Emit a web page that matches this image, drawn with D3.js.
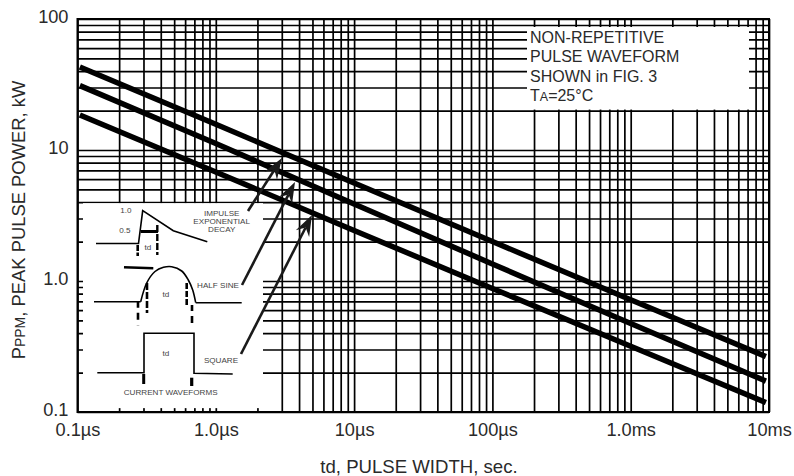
<!DOCTYPE html>
<html>
<head>
<meta charset="utf-8">
<script src="https://cdn.jsdelivr.net/npm/d3@7"></script>
<style>
  html, body { margin: 0; padding: 0; background: #fff; }
  text { font-family: "Liberation Sans", Arial, sans-serif; fill: #2a2a2a; }
  .grid line { stroke: #000; stroke-width: 1.7; }
  .grid path { display: none; }
  .tick-labels path, .tick-labels line { display: none; }
  .tick-labels text { font-size: 18.2px; font-family: "Liberation Sans", Arial, sans-serif; fill: #2a2a2a; }
</style>
</head>
<body>
<svg id="chart" width="794" height="476"></svg>
<script>
// pulse width in microseconds, peak power in kW
let pulse_width = [0.104, 1, 10, 100, 1000, 9500];
let impulse_power = [43, 15.7, 5.6, 2.0, 0.72, 0.265];
let half_sine_power = [31, 11.2, 3.87, 1.35, 0.474, 0.172];
let square_power = [18.5, 6.8, 2.43, 0.877, 0.318, 0.118];

let x_ticks = [0.1, 1, 10, 100, 1000, 10000];
let x_tick_labels = ['0.1µs', '1.0µs', '10µs', '100µs', '1.0ms', '10ms'];
let y_ticks = [0.1, 1, 10, 100];
let y_tick_labels = ['0.1', '1.0', '10', '100'];
let note_lines = ['NON-REPETITIVE', 'PULSE WAVEFORM', 'SHOWN in FIG. 3'];

let svg = d3.select('#chart');
let left = 77.5, right = 769, top_y = 19, bottom = 412;

let x = d3.scaleLog().domain([0.1, 10000]).range([left, right]);
let y = d3.scaleLog().domain([0.1, 100]).range([bottom, top_y]);

// every 1..9 of each decade gets a grid line
function decades(from, to) {
    let res = [];
    for (let d = from; d < to - 1e-9; d *= 10) {
        for (let m = 1; m < 10; m++) res.push(d * m);
    }
    res.push(to);
    return res;
}

svg.append('g').attr('class', 'grid')
    .attr('transform', `translate(0,${bottom})`)
    .call(d3.axisBottom(x).tickValues(decades(0.1, 10000)).tickSize(top_y - bottom).tickFormat(''));
svg.append('g').attr('class', 'grid')
    .attr('transform', `translate(${left},0)`)
    .call(d3.axisLeft(y).tickValues(decades(0.1, 100)).tickSize(left - right).tickFormat(''));

// white panels sit on the grid: waveform inset and the note box
svg.append('rect').attr('x', 83).attr('y', y(4) + 1).attr('width', 180).attr('height', 205).attr('fill', '#fff');
svg.append('rect').attr('x', 527).attr('y', 27).attr('width', 222).attr('height', y(20) - 28).attr('fill', '#fff');

// frame
svg.append('rect').attr('x', left).attr('y', top_y).attr('width', right - left).attr('height', bottom - top_y)
    .attr('fill', 'none').attr('stroke', '#000').attr('stroke-width', 2);

// the three curves
let curve = d3.line().x((d, i) => x(pulse_width[i])).y(d => y(d));
[impulse_power, half_sine_power, square_power].forEach(function (s) {
    svg.append('path').attr('d', curve(s))
        .attr('fill', 'none').attr('stroke', '#000').attr('stroke-width', 5.5);
});

// tick labels
svg.append('g').attr('class', 'tick-labels')
    .attr('transform', `translate(0,${bottom + 6})`)
    .call(d3.axisBottom(x).tickValues(x_ticks).tickSize(0).tickPadding(5)
        .tickFormat((d, i) => x_tick_labels[i]));
svg.append('g').attr('class', 'tick-labels')
    .attr('transform', `translate(${left - 9},-2)`)
    .call(d3.axisLeft(y).tickValues(y_ticks).tickSize(0).tickPadding(0)
        .tickFormat((d, i) => y_tick_labels[i]));

// axis titles
let ylab = svg.append('text').attr('transform', 'translate(25,220) rotate(-90)')
    .attr('text-anchor', 'middle').attr('font-size', 18.4);
ylab.append('tspan').text('P');
ylab.append('tspan').attr('font-size', 14).text('PPM');
ylab.append('tspan').text(', PEAK PULSE POWER, kW');
svg.append('text').attr('x', 419).attr('y', 473).attr('text-anchor', 'middle')
    .attr('font-size', 18.6).text('td, PULSE WIDTH, sec.');

// note box
note_lines.forEach(function (t, i) {
    svg.append('text').attr('x', 530).attr('y', 43 + i * 19.4).attr('font-size', 16).text(t);
});
let ta = svg.append('text').attr('x', 530).attr('y', 101).attr('font-size', 16);
ta.append('tspan').text('T');
ta.append('tspan').attr('font-size', 12.5).text('A');
ta.append('tspan').text('=25°C');

// inset sketches, plain pixel paths
let sketch = d3.line();
let sketch_round = d3.line().curve(d3.curveCatmullRom);
let ink = svg.append('g').attr('fill', 'none').attr('stroke', '#000');
function stroke(pts, w, dash, gen) {
    let p = ink.append('path').attr('d', (gen || sketch)(pts)).attr('stroke-width', w);
    if (dash) p.attr('stroke-dasharray', dash);
}

// impulse
stroke([[96, 243.5], [138.5, 243.5], [142.7, 210.7], [173.3, 230.7], [207.3, 241.7]], 1.6);
stroke([[140.7, 231.5], [158, 231.5]], 3);
stroke([[137.7, 245], [137.7, 256]], 2.6, '6 1.5');
stroke([[157.3, 225], [157.3, 255]], 2.4, '7 2');
// half sine
stroke([[94, 301.7], [140.7, 301.7]], 1.6);
stroke([[140.7, 301.7], [146.7, 283], [155, 271.5], [163.5, 267.3], [171.7, 266.7], [181.7, 271], [188.3, 280], [192.7, 290], [195.7, 302.7]], 1.6, null, sketch_round);
stroke([[195.7, 302.7], [241.7, 302.7]], 1.6);
stroke([[124, 267.3], [153.3, 268.3]], 2.4);
stroke([[138, 301.7], [138, 326]], 2.6, '6 5 7');
stroke([[147, 283], [147, 313]], 2.6, '7 2');
stroke([[186.7, 283], [186.7, 307]], 2.6, '6 2');
stroke([[192, 305], [192, 326]], 2.6, '6 5 7');
// square
stroke([[97.3, 372.7], [144, 372.7], [144, 333.3], [194, 333.3], [194, 373.3], [232.7, 374]], 1.6);
stroke([[143.7, 374], [143.7, 384]], 3);
stroke([[191.7, 377.7], [191.7, 386]], 3.2);

let small_labels = [
    ['1.0', 126, 213], ['0.5', 125, 233], ['td', 148, 250], ['td', 166, 297], ['td', 166, 356],
    ['IMPULSE', 221.7, 215.5], ['EXPONENTIAL', 221.7, 223.7], ['DECAY', 221.7, 231.7],
    ['HALF SINE', 218, 288], ['SQUARE', 221, 363], ['CURRENT WAVEFORMS', 170.7, 394.7]
];
small_labels.forEach(function (l) {
    svg.append('text').attr('x', l[1]).attr('y', l[2]).attr('text-anchor', 'middle')
        .attr('font-size', 8.1).style('fill', '#444').text(l[0]);
});

// arrows from the labels up to the curves
let arrows = [[248, 211, 282, 158], [242, 285, 295, 182], [241, 354, 312, 215]];
arrows.forEach(function (a) {
    let dx = a[2] - a[0], dy = a[3] - a[1], len = Math.hypot(dx, dy);
    let ux = dx / len, uy = dy / len;
    let head = 21, wing = 7.5, notch = 14;
    svg.append('line').attr('x1', a[0]).attr('y1', a[1])
        .attr('x2', a[2] - ux * notch).attr('y2', a[3] - uy * notch)
        .attr('stroke', '#1a1a1a').attr('stroke-width', 2.6);
    let pts = [
        [a[2], a[3]],
        [a[2] - ux * head - uy * wing, a[3] - uy * head + ux * wing],
        [a[2] - ux * notch, a[3] - uy * notch],
        [a[2] - ux * head + uy * wing, a[3] - uy * head - ux * wing]
    ];
    svg.append('polygon').attr('points', pts.join(' ')).attr('fill', '#1a1a1a');
});
</script>
</body>
</html>
